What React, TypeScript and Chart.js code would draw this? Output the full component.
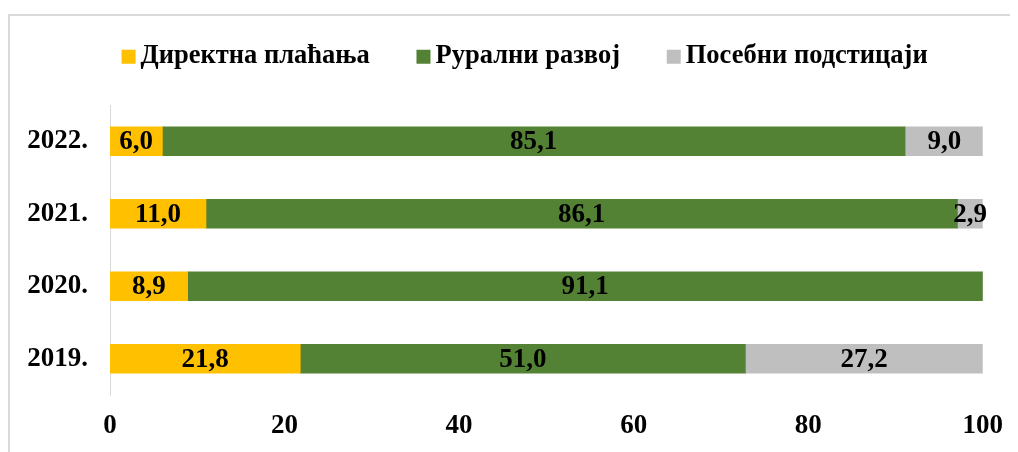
import React, { useEffect, useRef } from "react";
import { Chart, registerables } from "chart.js";

Chart.register(...registerables);

const categories = ["2022.", "2021.", "2020.", "2019."];
const seriesNames = ["Директна плаћања", "Рурални развој", "Посебни подстицаји"];
const directPayments = [6.0, 11.0, 8.9, 21.8];
const ruralDevelopment = [85.1, 86.1, 91.1, 51.0];
const specialIncentives = [9.0, 2.9, 0, 27.2];
const xTicks = [0, 20, 40, 60, 80, 100];
const colors = ["#FFC000", "#548235", "#BFBFBF"];

const FONT = "'Liberation Serif', 'Times New Roman', serif";
const LEGEND_FONT = 26.5;

const labelPlugin = {
  id: "segLabels",
  afterDatasetsDraw(chart: any) {
    const ctx = chart.ctx;
    ctx.save();
    ctx.font = `bold 27px ${FONT}`;
    ctx.fillStyle = "#000";
    ctx.textAlign = "center";
    ctx.textBaseline = "middle";
    chart.data.datasets.forEach((ds: any, i: number) => {
      const meta = chart.getDatasetMeta(i);
      meta.data.forEach((el: any, j: number) => {
        const v = ds.data[j];
        if (!v) return;
        const cx = (el.x + el.base) / 2;
        ctx.fillText(v.toFixed(1).replace(".", ","), cx, el.y + 1);
      });
    });
    ctx.restore();
  },
};

const legendLayoutPlugin = {
  id: "legendLayout",
  beforeLayout(chart: any) {
    const lg = chart.legend;
    if (lg && !lg.__patched) {
      const orig = lg.fit;
      lg.fit = function () {
        orig.call(this);
        this.height = 101;
      };
      lg.__patched = true;
    }
  },
  afterLayout(chart: any) {
    const lg = chart.legend;
    if (lg) {
      lg.left += 25;
      lg.right += 25;
    }
  },
  afterDraw(chart: any) {
    const lg = chart.legend;
    if (!lg || !lg.legendHitBoxes) return;
    const ctx = chart.ctx;
    ctx.save();
    lg.legendHitBoxes.forEach((hb: any, i: number) => {
      const textX = hb.left + 14 + LEGEND_FONT / 2;
      const cy = hb.top + hb.height / 2;
      ctx.fillStyle = colors[i];
      ctx.fillRect(textX - 19, cy - 6, 14, 14);
    });
    ctx.restore();
  },
};

export default function App() {
  const ref = useRef<HTMLCanvasElement>(null);
  useEffect(() => {
    const chart = new Chart(ref.current as HTMLCanvasElement, {
      type: "bar",
      data: {
        labels: categories,
        datasets: [directPayments, ruralDevelopment, specialIncentives].map((d, i) => ({
          label: seriesNames[i],
          data: d,
          backgroundColor: colors[i],
          borderWidth: 0,
          barThickness: 29,
        })),
      },
      options: {
        indexAxis: "y",
        animation: false,
        responsive: false,
        maintainAspectRatio: false,
        layout: { padding: { left: 0, right: 35, top: 2, bottom: 0 } },
        plugins: {
          tooltip: { enabled: false },
          legend: {
            position: "top",
            labels: {
              boxWidth: 14,
              boxHeight: 14,
              padding: 38.5,
              color: "#000",
              font: { family: FONT, size: LEGEND_FONT, weight: "bold" },
              generateLabels: (chart: any) =>
                chart.data.datasets.map((ds: any, i: number) => ({
                  text: ds.label,
                  fillStyle: "rgba(0,0,0,0)",
                  strokeStyle: "rgba(0,0,0,0)",
                  lineWidth: 0,
                  hidden: false,
                  datasetIndex: i,
                  fontColor: "#000",
                })),
            },
          },
        },
        scales: {
          x: {
            stacked: true,
            min: 0,
            max: 100,
            afterBuildTicks: (s: any) => {
              s.ticks = xTicks.map((v) => ({ value: v }));
            },
            afterFit: (s: any) => {
              s.height = 57;
            },
            grid: { display: false, drawTicks: false },
            border: { display: false },
            ticks: {
              padding: 15,
              color: "#000",
              font: { family: FONT, size: 27, weight: "bold" },
            },
          },
          y: {
            stacked: true,
            afterFit: (s: any) => {
              s.width = 102;
            },
            grid: { display: false, drawTicks: false },
            border: { display: true, color: "#D9D9D9", width: 1 },
            ticks: {
              padding: 22,
              color: "#000",
              font: { family: FONT, size: 27, weight: "bold" },
            },
          },
        },
      },
      plugins: [labelPlugin, legendLayoutPlugin],
    } as any);
    return () => chart.destroy();
  }, []);

  return (
    <div style={{ position: "relative", width: 1010, height: 444, overflow: "hidden" }}>
      <div
        style={{
          position: "absolute",
          left: 0,
          top: 6,
          width: 1100,
          height: 500,
          border: "2px solid #D9D9D9",
          boxSizing: "border-box",
        }}
      />
      <canvas
        ref={ref}
        width={1010}
        height={450}
        style={{ position: "absolute", left: 0, top: -6, width: 1010, height: 450 }}
      />
    </div>
  );
}
